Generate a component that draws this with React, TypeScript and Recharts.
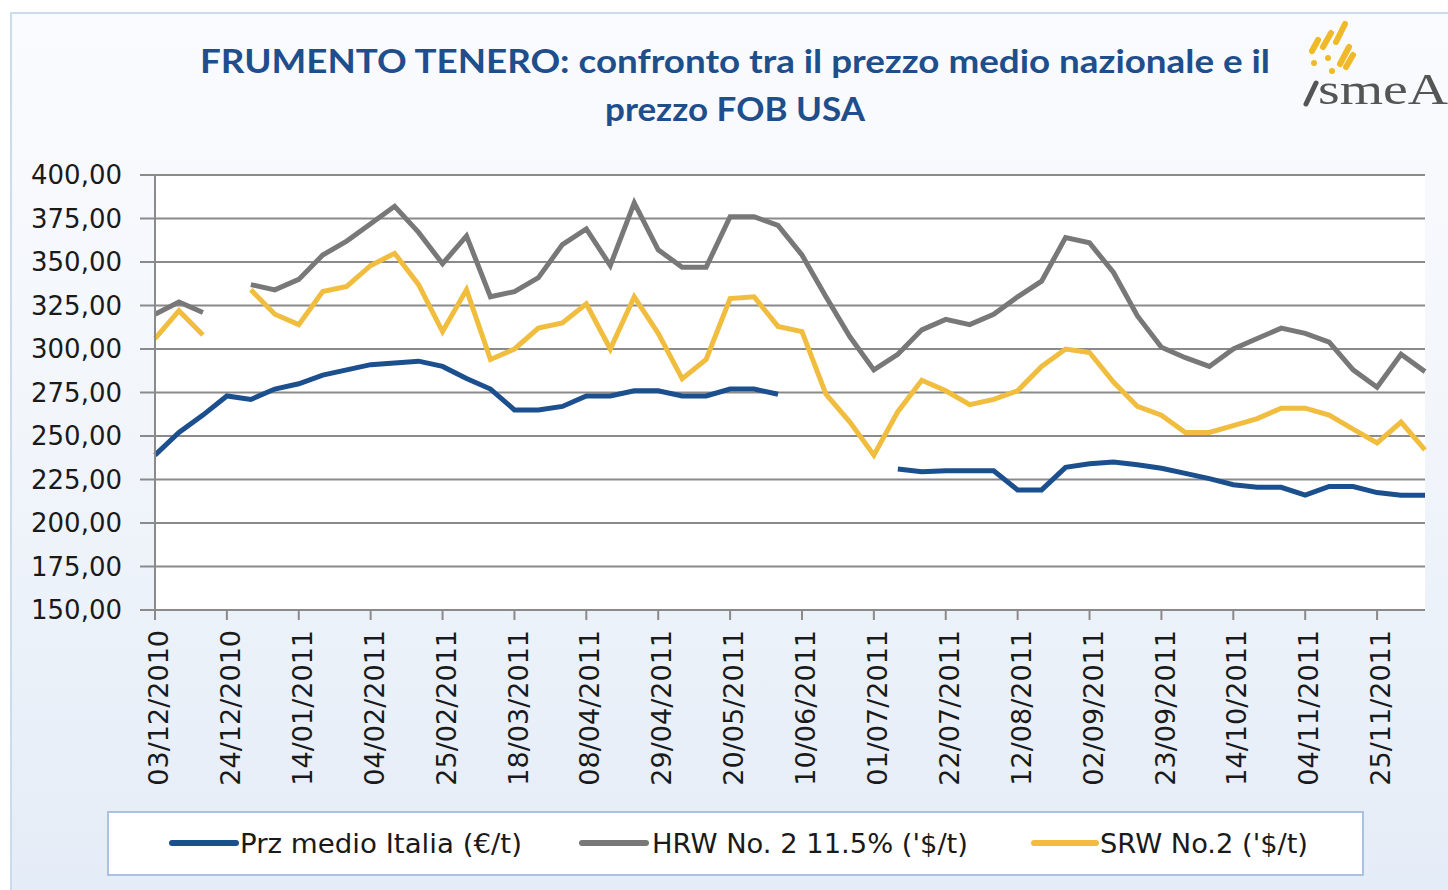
import React from 'react';
import { LineChart, Line, XAxis, YAxis, CartesianGrid } from 'recharts';

const dates = [
  '03/12/2010', '10/12/2010', '17/12/2010', '24/12/2010', '31/12/2010', '07/01/2011', '14/01/2011', '21/01/2011',
  '28/01/2011', '04/02/2011', '11/02/2011', '18/02/2011', '25/02/2011', '04/03/2011', '11/03/2011', '18/03/2011',
  '25/03/2011', '01/04/2011', '08/04/2011', '15/04/2011', '22/04/2011', '29/04/2011', '06/05/2011', '13/05/2011',
  '20/05/2011', '27/05/2011', '03/06/2011', '10/06/2011', '17/06/2011', '24/06/2011', '01/07/2011', '08/07/2011',
  '15/07/2011', '22/07/2011', '29/07/2011', '05/08/2011', '12/08/2011', '19/08/2011', '26/08/2011', '02/09/2011',
  '09/09/2011', '16/09/2011', '23/09/2011', '30/09/2011', '07/10/2011', '14/10/2011', '21/10/2011', '28/10/2011',
  '04/11/2011', '11/11/2011', '18/11/2011', '25/11/2011', '02/12/2011', '09/12/2011',
];

const italia: (number | null)[] = [
  239, 252, 262, 273, 271, 277, 280, 285, 288, 291, 292, 293, 290, 283, 277, 265,
  265, 267, 273, 273, 276, 276, 273, 273, 277, 277, 274, null, null, null, null, 231,
  229.5, 230, 230, 230, 219, 219, 232, 234, 235, 233.5, 231.5, 228.5, 225.5, 222, 220.5, 220.5,
  216, 221, 221, 217.5, 216, 216,
];

const hrw: (number | null)[] = [
  320, 327, 321, null, 337, 334, 340, 354, 362, 372, 382, 367, 349, 365, 330, 333,
  341, 360, 369, 348, 384, 357, 347, 347, 376, 376, 371, 354, 330, 307, 288, 297,
  311, 317, 314, 320, 330, 339, 364, 361, 344, 319, 301, 295, 290, 300, 306, 312,
  309, 304, 288, 278, 297, 287,
];

const srw: (number | null)[] = [
  306, 322, 308, null, 334, 320, 314, 333, 336, 348, 355, 337, 310, 334, 294, 300,
  312, 315, 326, 300, 330, 309, 283, 294, 329, 330, 313, 310, 274, 258, 239, 264,
  282, 276, 268, 271, 276, 290, 300, 298, 281, 267, 262, 252, 252, 256, 260, 266,
  266, 262, 254, 246, 258, 242,
];

const yTicks = [150, 175, 200, 225, 250, 275, 300, 325, 350, 375, 400];

const seriesNames = ['Prz medio Italia (€/t)', "HRW No. 2 11.5% ('$/t)", "SRW No.2 ('$/t)"];
const titleLines = ['FRUMENTO TENERO: confronto tra il prezzo medio nazionale e il', 'prezzo FOB USA'];

const COLORS = { italia: '#1b4f8e', hrw: '#787878', srw: '#f0bd3f' };

const data = dates.map((d, i) => ({ date: d, italia: italia[i], hrw: hrw[i], srw: srw[i] }));

const fmt = (v: number) => v.toFixed(2).replace('.', ',');

export default function App() {
  return (
    <div style={{ position: 'absolute', left: 0, top: 0, width: 1448, height: 890, background: '#fff', overflow: 'hidden' }}>
      <div
        style={{
          position: 'absolute', left: 10, top: 12, width: 1440, height: 880,
          borderTop: '2px solid #cddbef', borderLeft: '2px solid #cddbef',
          background: 'linear-gradient(180deg, #fafbfe 0%, #f2f6fb 45%, #e4ecf7 100%)',
        }}
      />
      <div style={{ position: 'absolute', left: 0, top: 0 }}>
        <LineChart width={1448} height={890} data={data} margin={{ top: 175, right: 23, left: 0, bottom: 80 }}>
          <CartesianGrid vertical={false} stroke="#8a8a8a" strokeWidth={2} fill="#ffffff" />
          <XAxis
            dataKey="date"
            scale="point"
            padding={{ left: 0, right: 0 }}
            interval={2}
            height={200}
            tickSize={10}
            tickMargin={10}
            angle={-90}
            textAnchor="end"
            axisLine={{ stroke: '#8a8a8a', strokeWidth: 2 }}
            tickLine={{ stroke: '#8a8a8a', strokeWidth: 2 }}
            tick={{ fill: '#1a1a1a', fontSize: 27, fontFamily: 'DejaVu Sans', dx: -6 } as any}
          />
          <YAxis
            domain={[150, 400]}
            ticks={yTicks}
            interval={0}
            width={155}
            tickSize={15}
            tickMargin={18}
            tickFormatter={fmt}
            axisLine={{ stroke: '#8a8a8a', strokeWidth: 2 }}
            tickLine={{ stroke: '#8a8a8a', strokeWidth: 2 }}
            tick={{ fill: '#1a1a1a', fontSize: 26, fontFamily: 'DejaVu Sans' }}
          />
          <Line type="linear" dataKey="hrw" name={seriesNames[1]} stroke={COLORS.hrw} strokeWidth={5} dot={false} isAnimationActive={false} />
          <Line type="linear" dataKey="srw" name={seriesNames[2]} stroke={COLORS.srw} strokeWidth={5} dot={false} isAnimationActive={false} />
          <Line type="linear" dataKey="italia" name={seriesNames[0]} stroke={COLORS.italia} strokeWidth={5} dot={false} isAnimationActive={false} />
        </LineChart>
      </div>
      <svg width={1448} height={890} style={{ position: 'absolute', left: 0, top: 0, pointerEvents: 'none' }}>
        <text x={200} y={73} textLength={1070} lengthAdjust="spacingAndGlyphs" fill="#1f4e8c" fontFamily="Lato" fontWeight={700} fontSize={32}>
          {titleLines[0]}
        </text>
        <text x={605} y={121} textLength={260} lengthAdjust="spacingAndGlyphs" fill="#1f4e8c" fontFamily="Lato" fontWeight={700} fontSize={32}>
          {titleLines[1]}
        </text>
        {/* logo */}
        <g stroke="#f0b928" strokeWidth={6} strokeLinecap="round">
          <line x1={1312} y1={51} x2={1318} y2={40} />
          <line x1={1323} y1={47} x2={1331} y2={33} />
          <line x1={1336} y1={42} x2={1345} y2={24} />
          <line x1={1340} y1={64} x2={1349} y2={47} />
          <line x1={1346} y1={67} x2={1353} y2={55} />
        </g>
        <g fill="#f0b928">
          <circle cx={1314} cy={63} r={3} />
          <circle cx={1328} cy={58} r={3} />
          <circle cx={1332} cy={71} r={3} />
        </g>
        <line x1={1306} y1={104} x2={1316} y2={83} stroke="#555" strokeWidth={5} strokeLinecap="round" />
        <text x={1318} y={104} textLength={130} lengthAdjust="spacingAndGlyphs" fill="#555" fontFamily="Liberation Serif" fontSize={44}>
          smeA
        </text>
        {/* legend */}
        <rect x={108} y={812} width={1255} height={63} fill="#ffffff" stroke="#a9c2e4" strokeWidth={2} />
        <line x1={172} y1={843} x2={236} y2={843} stroke={COLORS.italia} strokeWidth={6} strokeLinecap="round" />
        <text x={240} y={853} textLength={282} lengthAdjust="spacingAndGlyphs" fill="#1a1a1a" fontFamily="DejaVu Sans" fontSize={26}>
          {seriesNames[0]}
        </text>
        <line x1={582} y1={843} x2={646} y2={843} stroke={COLORS.hrw} strokeWidth={6} strokeLinecap="round" />
        <text x={652} y={853} textLength={316} lengthAdjust="spacingAndGlyphs" fill="#1a1a1a" fontFamily="DejaVu Sans" fontSize={26}>
          {seriesNames[1]}
        </text>
        <line x1={1034} y1={843} x2={1096} y2={843} stroke={COLORS.srw} strokeWidth={6} strokeLinecap="round" />
        <text x={1100} y={853} textLength={208} lengthAdjust="spacingAndGlyphs" fill="#1a1a1a" fontFamily="DejaVu Sans" fontSize={26}>
          {seriesNames[2]}
        </text>
      </svg>
    </div>
  );
}
